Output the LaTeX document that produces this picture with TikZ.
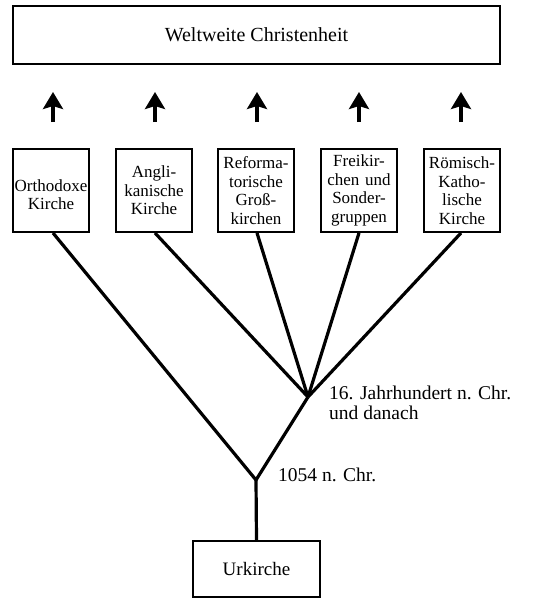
\documentclass[tikz,border=0pt]{standalone}
\usepackage{fontspec}
\setmainfont{Liberation Serif}
\usetikzlibrary{arrows.meta}
\begin{document}
\begin{tikzpicture}[x=1pt,y=1pt,
  box/.style={draw,line width=1.9pt,inner sep=0pt,align=center},
  kbox/.style={box,minimum width=76pt,minimum height=83pt,text width=76pt,font=\fontsize{17}{18.5}\selectfont},
  branch/.style={line width=3.2pt},
  uparrow/.style={line width=4.2pt,-{Stealth[inset=3pt,width=20pt,length=17pt]}},
  lbl/.style={font=\fontsize{19.5}{19.5}\selectfont,inner sep=0pt,align=left,anchor=west}]
\useasboundingbox (0,0) rectangle (550,-599);
\node[box,minimum width=487pt,minimum height=58pt,font=\fontsize{20}{22}\selectfont] (top) at (256.5,-35) {Weltweite Christenheit};
\node[kbox] (b1) at (51,-190.5) {\mbox{}\\[1.5pt]Orthodoxe\\Kirche};
\node[kbox] (b2) at (154,-190.5) {Angli-\\kanische\\Kirche};
\node[kbox] (b3) at (256,-190.5) {Reforma-\\torische\\Groß-\\kirchen};
\node[kbox] (b4) at (359,-190.5) {Freikir-\\chen und\\Sonder-\\gruppen};
\node[kbox] (b5) at (462,-190.5) {Römisch-\\Katho-\\lische\\Kirche};
\node[box,minimum width=127pt,minimum height=56pt,font=\fontsize{19}{21}\selectfont] (ur) at (256.5,-569) {Urkirche};
\coordinate (j1) at (256,-480);
\coordinate (j2) at (308,-397);
\foreach \i/\x in {1/53,2/155,3/257,4/359,5/461}{
  \coordinate (s\i) at (\x,-122);
  \coordinate (e\i) at (\x,-92);
  \draw[uparrow] (s\i) -- (e\i);
}
\draw[branch,line join=miter] ([xshift=2pt]b1.south) -- (j1) -- (j2);
\draw[branch] ([xshift=1pt]b2.south) -- (j2);
\draw[branch] ([xshift=1pt]b3.south) -- (j2);
\draw[branch] (b4.south) -- (j2);
\draw[branch] ([xshift=-1pt]b5.south) -- (j2);
\draw[branch] (j1) -- (ur.north);
\node[lbl] (l16) at (329,-403) {16. Jahrhundert n. Chr.\\und danach};
\node[lbl] (l1054) at (278,-475) {1054 n. Chr.};
\end{tikzpicture}
\end{document}
